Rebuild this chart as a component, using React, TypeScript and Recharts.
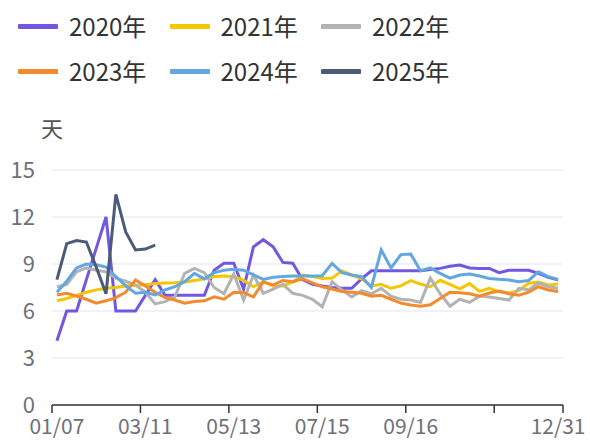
import React from 'react';
import { LineChart, Line, XAxis, YAxis, CartesianGrid } from 'recharts';

const categories = [
  '01/07', '01/14', '01/21', '01/28', '02/04', '02/11', '02/18', '02/25', '03/04', '03/11',
  '03/18', '03/25', '04/01', '04/08', '04/15', '04/22', '04/29', '05/06', '05/13', '05/20',
  '05/27', '06/03', '06/10', '06/17', '06/24', '07/01', '07/08', '07/15', '07/22', '07/29',
  '08/05', '08/12', '08/19', '08/26', '09/02', '09/09', '09/16', '09/23', '09/30', '10/07',
  '10/14', '10/21', '10/28', '11/04', '11/11', '11/18', '11/25', '12/02', '12/09', '12/16',
  '12/23', '12/31',
];

// tick boundaries every 9 weeks; label '' = hidden by overlap
const xTickValues = [-0.5, 8.5, 17.5, 26.5, 35.5, 44.5, 51.5];
const xTickLabels = ['01/07', '03/11', '05/13', '07/15', '09/16', '', '12/31'];
const yTicks = [0, 3, 6, 9, 12, 15];
const unitLabel = '天';

const v2020 = [
  4.1, 6.0, 6.0, 8.0, 10.0, 12.0, 6.0, 6.0, 6.0, 7.0,
  8.0, 7.0, 7.0, 7.0, 7.0, 7.0, 8.6, 9.05, 9.05, 7.4,
  10.1, 10.55, 10.1, 9.1, 9.05, 8.0, 7.7, 7.6, 7.5, 7.45,
  7.45, 8.05, 8.57, 8.57, 8.57, 8.57, 8.57, 8.57, 8.65, 8.72,
  8.85, 8.94, 8.75, 8.72, 8.72, 8.45, 8.6, 8.6, 8.6, 8.4,
  8.15, 8.0,
];
const v2021 = [
  6.66, 6.8, 7.0, 7.2, 7.35, 7.45, 7.5, 7.6, 7.65, 7.68,
  7.75, 7.78, 7.8, 7.85, 7.95, 8.05, 8.2, 8.23, 8.2, 7.95,
  7.55, 7.87, 7.6, 7.6, 7.85, 8.3, 8.2, 8.08, 8.1, 8.55,
  8.3, 8.05, 7.6, 7.7, 7.45, 7.6, 7.94, 7.72, 7.55, 7.96,
  7.7, 7.42, 7.75, 7.25, 7.45, 7.23, 7.15, 7.3, 7.77, 7.85,
  7.66, 7.72,
];
const v2022 = [
  7.55, 7.7, 8.5, 8.75, 8.6, 8.5, 8.1, 7.9, 7.65, 7.2,
  6.45, 6.6, 6.9, 8.4, 8.72, 8.45, 7.5, 7.1, 8.36, 6.7,
  8.3, 7.13, 7.4, 7.7, 7.13, 7.0, 6.75, 6.27, 7.87, 7.35,
  6.9, 7.3, 7.1, 7.45, 6.95, 6.75, 6.7, 6.55, 8.1, 7.1,
  6.3, 6.75, 6.55, 6.95, 6.9, 6.8, 6.7, 7.45, 7.35, 7.8,
  7.55, 7.45,
];
const v2023 = [
  7.02, 7.13, 6.95, 6.75, 6.5, 6.65, 6.85, 7.2, 7.98, 7.6,
  7.2, 6.85, 6.7, 6.5, 6.6, 6.65, 6.9, 6.75, 7.2, 7.17,
  6.9, 7.85, 7.66, 7.95, 7.87, 8.05, 7.8, 7.55, 7.4, 7.25,
  7.2, 7.13, 6.95, 7.0, 6.75, 6.5, 6.38, 6.3, 6.4, 6.8,
  7.2, 7.17, 7.1, 6.95, 7.15, 7.28, 7.1, 7.0, 7.2, 7.55,
  7.34, 7.25,
];
const v2024 = [
  7.2, 7.9, 8.75, 9.0, 8.95, 8.8, 8.2, 7.6, 7.13, 7.2,
  7.02, 7.34, 7.55, 7.87, 8.4, 8.05, 8.45, 8.6, 8.66, 8.6,
  8.3, 8.02, 8.15, 8.2, 8.23, 8.23, 8.23, 8.25, 9.04, 8.45,
  8.3, 8.19, 7.5, 9.9, 8.75, 9.6, 9.64, 8.57, 8.75, 8.4,
  8.1, 8.3, 8.36, 8.23, 8.08, 8.02, 7.98, 7.87, 7.95, 8.5,
  8.19, 8.02,
];
const v2025 = [8.0, 10.3, 10.5, 10.4, 8.8, 7.1, 13.45, 11.05, 9.9, 9.95, 10.2];

const seriesNames = ['2020年', '2021年', '2022年', '2023年', '2024年', '2025年'];
const seriesValues = [v2020, v2021, v2022, v2023, v2024, v2025];
const seriesColors = ['#7357e1', '#f5c600', '#b3b3b3', '#f28b2f', '#62a7e1', '#4b5b78'];

const data = categories.map((c, i) => {
  const row: Record<string, any> = { idx: i, date: c };
  seriesValues.forEach((vals, s) => {
    row['s' + s] = vals[i];
  });
  return row;
});

const FONT = '"Noto Sans CJK SC", "Noto Sans", sans-serif';
const BAND = 511 / 52;

const XTick = (props: any) => {
  const { x, y, index } = props;
  const label = xTickLabels[index] ?? '';
  if (!label) return null;
  const isLast = index === xTickValues.length - 1;
  const tx = isLast ? x - BAND / 2 : x + BAND / 2;
  return (
    <text x={tx} y={y + 19} textAnchor="middle" fill="#6e7079" fontSize={21} fontFamily={FONT}>
      {label}
    </text>
  );
};

export default function App() {
  return (
    <div style={{ position: 'absolute', left: 0, top: 0, width: 590, height: 441, background: '#fff', fontFamily: FONT }}>
      {seriesNames.map((n, i) => {
        const col = i % 3;
        const row = Math.floor(i / 3);
        const left = 18 + col * 151.5;
        const top = row === 0 ? 26 : 71;
        return (
          <div key={n} style={{ position: 'absolute', left, top: top - 15, height: 30, display: 'flex', alignItems: 'center' }}>
            <div style={{ width: 40, height: 5, background: seriesColors[i], borderRadius: 1 }} />
            <span style={{ marginLeft: 11, fontSize: 24, color: '#333', lineHeight: '30px', whiteSpace: 'nowrap' }}>{n}</span>
          </div>
        );
      })}
      <div style={{ position: 'absolute', left: 40, top: 113, width: 24, textAlign: 'center', fontSize: 22, color: '#555', lineHeight: '28px' }}>
        {unitLabel}
      </div>
      <LineChart
        width={590}
        height={441}
        data={data}
        margin={{ top: 170, right: 27, bottom: 6, left: 12 }}
        style={{ position: 'absolute', left: 0, top: 0 }}
      >
        <CartesianGrid vertical={false} stroke="#e0e6f1" strokeWidth={1.2} />
        <XAxis
          type="number"
          dataKey="idx"
          domain={[-0.5, 51.5]}
          ticks={xTickValues}
          interval={0}
          height={30}
          axisLine={{ stroke: '#333', strokeWidth: 1.5 }}
          tickLine={{ stroke: '#333', strokeWidth: 1.5 }}
          tickSize={8}
          tick={<XTick />}
          allowDataOverflow
        />
        <YAxis
          type="number"
          domain={[0, 15]}
          ticks={yTicks}
          interval={0}
          width={40}
          axisLine={false}
          tickLine={false}
          tickMargin={11}
          tick={{ fill: '#6e7079', fontSize: 22, fontFamily: FONT }}
        />
        {seriesNames.map((n, i) => (
          <Line
            key={n}
            type="linear"
            dataKey={'s' + i}
            name={n}
            stroke={seriesColors[i]}
            strokeWidth={3}
            dot={false}
            activeDot={false}
            isAnimationActive={false}
            connectNulls={false}
          />
        ))}
      </LineChart>
    </div>
  );
}
